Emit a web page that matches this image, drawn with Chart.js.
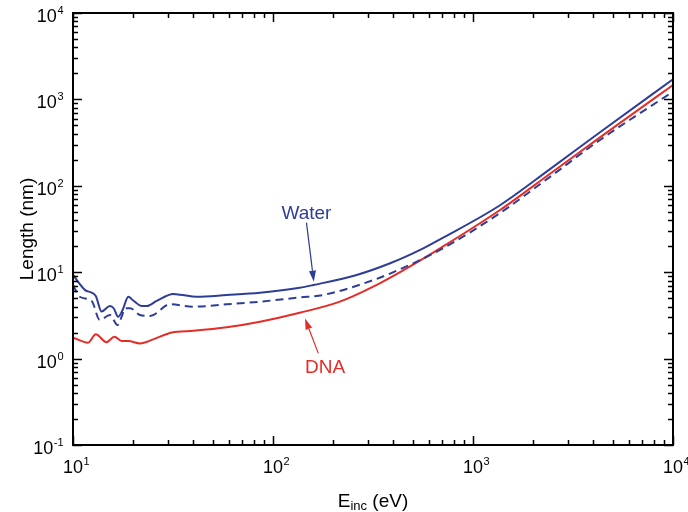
<!DOCTYPE html>
<html><head><meta charset="utf-8">
<script src="https://cdn.jsdelivr.net/npm/chart.js@4.4.1/dist/chart.umd.min.js"></script>
<style>html,body{margin:0;padding:0;background:#fff}#wrap{width:688px;height:512px}</style>
</head><body><div id="wrap"><canvas id="c" width="688" height="512"></canvas></div>
<script>
// Incident energy (eV) and length (nm)
const waterE   = [10, 11.5, 12.4, 13.0, 13.9, 15.3, 16.0, 16.8, 17.7, 18.9, 20.0, 22.1, 23.4, 26.2, 31.7, 34.3, 41.5, 58.7, 86.1, 136, 159, 262, 385, 564, 684, 1365, 2427, 4315, 10000];
const waterLen = [9.3, 6.2, 5.8, 5.3, 3.5, 4.06, 3.8, 3.05, 3.65, 5.2, 4.7, 4.06, 4.06, 4.65, 5.6, 5.5, 5.2, 5.45, 5.8, 6.6, 7.1, 9.3, 12.7, 18.9, 24, 59.6, 156, 417, 1710];

const waterDashE   = [10, 10.8, 12.4, 13.6, 15.3, 16.7, 17.5, 18.2, 19.3, 21.6, 24.3, 30.5, 40.0, 58.7, 86.1, 136, 178, 317, 431, 684, 1365, 2427, 4315, 10000];
const waterDashLen = [7.1, 5.2, 4.65, 2.8, 3.2, 2.45, 3.05, 3.82, 3.82, 3.2, 3.11, 4.25, 3.99, 4.25, 4.56, 5.1, 5.45, 8.1, 10.8, 18.1, 48.4, 127, 339, 1230];

const dnaE   = [10, 11.9, 13.0, 14.7, 16.1, 17.5, 18.9, 21.6, 25.2, 31.2, 40.0, 58.7, 86.1, 136, 216, 317, 466, 684, 1365, 2427, 4315, 10000];
const dnaLen = [1.75, 1.53, 1.91, 1.55, 1.79, 1.60, 1.60, 1.50, 1.67, 2.01, 2.10, 2.30, 2.67, 3.39, 4.56, 6.8, 11.1, 18.9, 52.5, 138, 364, 1469];

// Axis ticks
const xDecades = [10, 100, 1000, 10000];
const xExps = ['1', '2', '3', '4'];
const yDecades = [0.1, 1, 10, 100, 1000, 10000];
const yExps = ['-1', '0', '1', '2', '3', '4'];

// Annotations: [text x, text y, arrow start x, y, arrow tip x, y]
const waterNote = {text: 'Water', tx: 147, ty: 48, ax0: 147, ay0: 37.5, ax1: 160, ay1: 7.76};
const dnaNote   = {text: 'DNA',   tx: 182, ty: 0.773, ax0: 168.5, ay0: 1.15, ax1: 144.5, ay1: 2.92};

const BLUE = '#2e3d98';
const RED = '#e52d27';
const FONT = '"Liberation Sans", Arial, Helvetica, sans-serif';

function pts(xs, ys) { return xs.map((x, i) => ({x: x, y: ys[i]})); }

const decor = {
  id: 'decor',
  afterDraw(chart) {
    const ctx = chart.ctx, ca = chart.chartArea;
    const xs = chart.scales.x, ys = chart.scales.y;
    ctx.save();
    // ticks
    ctx.strokeStyle = '#000';
    ctx.lineWidth = 1.5;
    ctx.beginPath();
    for (let d = 0; d < xDecades.length; d++) {
      for (let m = 1; m <= 9; m++) {
        const v = xDecades[d] * m;
        if (v > xDecades[xDecades.length - 1]) break;
        const p = Math.round(xs.getPixelForValue(v)) + 0.5;
        const len = m === 1 ? 9 : 5;
        ctx.moveTo(p, ca.bottom); ctx.lineTo(p, ca.bottom - len);
        ctx.moveTo(p, ca.top); ctx.lineTo(p, ca.top + len);
      }
    }
    for (let d = 0; d < yDecades.length; d++) {
      for (let m = 1; m <= 9; m++) {
        const v = yDecades[d] * m;
        if (v > yDecades[yDecades.length - 1] * 1.0001) break;
        const p = Math.round(ys.getPixelForValue(v)) + 0.5;
        const len = m === 1 ? 9 : 5;
        ctx.moveTo(ca.left, p); ctx.lineTo(ca.left + len, p);
        ctx.moveTo(ca.right, p); ctx.lineTo(ca.right - len, p);
      }
    }
    ctx.stroke();
    // frame
    ctx.lineWidth = 2;
    ctx.strokeRect(ca.left, ca.top, ca.right - ca.left, ca.bottom - ca.top);

    // tick labels
    ctx.fillStyle = '#000';
    ctx.textBaseline = 'alphabetic';
    for (let i = 0; i < xDecades.length; i++) {
      const p = xs.getPixelForValue(xDecades[i]);
      ctx.font = '18px ' + FONT;
      ctx.textAlign = 'center';
      const wb = ctx.measureText('10').width;
      ctx.fillText('10', p, ca.bottom + 28);
      ctx.font = '11px ' + FONT;
      ctx.textAlign = 'left';
      ctx.fillText(xExps[i], p + wb / 2 + 0.5, ca.bottom + 20);
    }
    const yRight = 63.5;
    for (let i = 0; i < yDecades.length; i++) {
      const p = ys.getPixelForValue(yDecades[i]);
      ctx.font = '11px ' + FONT;
      ctx.textAlign = 'right';
      const we = ctx.measureText(yExps[i]).width;
      ctx.fillText(yExps[i], yRight, p + 1);
      ctx.font = '18px ' + FONT;
      ctx.fillText('10', yRight - we - 0.5, p + 9);
    }

    // axis titles
    ctx.font = '19px ' + FONT;
    const wE = ctx.measureText('E').width;
    const wRest = ctx.measureText(' (eV)').width;
    ctx.font = '13px ' + FONT;
    const wInc = ctx.measureText('inc').width;
    const total = wE + wInc + wRest;
    let x0 = (ca.left + ca.right) / 2 - total / 2;
    ctx.textAlign = 'left';
    ctx.font = '19px ' + FONT;
    ctx.fillText('E', x0, 507);
    ctx.font = '13px ' + FONT;
    ctx.fillText('inc', x0 + wE, 510);
    ctx.font = '19px ' + FONT;
    ctx.fillText(' (eV)', x0 + wE + wInc, 507);

    ctx.save();
    ctx.translate(28, (ca.top + ca.bottom) / 2);
    ctx.rotate(-Math.PI / 2);
    ctx.textAlign = 'center';
    ctx.textBaseline = 'middle';
    ctx.font = '19px ' + FONT;
    ctx.fillText('Length (nm)', 0, 0);
    ctx.restore();

    // annotations
    function note(n, color) {
      const tx = xs.getPixelForValue(n.tx), ty = ys.getPixelForValue(n.ty);
      ctx.fillStyle = color; ctx.strokeStyle = color;
      ctx.font = '19px ' + FONT;
      ctx.textAlign = 'center'; ctx.textBaseline = 'middle';
      ctx.fillText(n.text, tx, ty);
      const x0 = xs.getPixelForValue(n.ax0), y0 = ys.getPixelForValue(n.ay0);
      const x1 = xs.getPixelForValue(n.ax1), y1 = ys.getPixelForValue(n.ay1);
      const ang = Math.atan2(y1 - y0, x1 - x0);
      const hl = 11, hw = 3.5;
      const bx = x1 - hl * Math.cos(ang), by = y1 - hl * Math.sin(ang);
      ctx.lineWidth = 1.2;
      ctx.beginPath(); ctx.moveTo(x0, y0); ctx.lineTo(bx, by); ctx.stroke();
      ctx.beginPath();
      ctx.moveTo(x1, y1);
      ctx.lineTo(bx + hw * Math.sin(ang), by - hw * Math.cos(ang));
      ctx.lineTo(bx - hw * Math.sin(ang), by + hw * Math.cos(ang));
      ctx.closePath(); ctx.fill();
    }
    note(waterNote, BLUE);
    note(dnaNote, RED);
    ctx.restore();
  }
};

new Chart(document.getElementById('c'), {
  type: 'line',
  data: {
    datasets: [
      {label: 'Water', data: pts(waterE, waterLen), borderColor: BLUE, borderWidth: 2, pointRadius: 0, cubicInterpolationMode: 'monotone', fill: false},
      {label: 'Water (dashed)', data: pts(waterDashE, waterDashLen), borderColor: BLUE, borderWidth: 2, borderDash: [8, 5], pointRadius: 0, cubicInterpolationMode: 'monotone', fill: false},
      {label: 'DNA', data: pts(dnaE, dnaLen), borderColor: RED, borderWidth: 2, pointRadius: 0, cubicInterpolationMode: 'monotone', fill: false}
    ]
  },
  options: {
    responsive: false,
    devicePixelRatio: 1,
    animation: false,
    layout: {padding: {left: 73, right: 15, top: 13, bottom: 67}},
    scales: {
      x: {type: 'logarithmic', min: 10, max: 10000, display: false},
      y: {type: 'logarithmic', min: 0.1, max: 10000, display: false}
    },
    plugins: {legend: {display: false}, tooltip: {enabled: false}}
  },
  plugins: [decor]
});
</script>
</body></html>
